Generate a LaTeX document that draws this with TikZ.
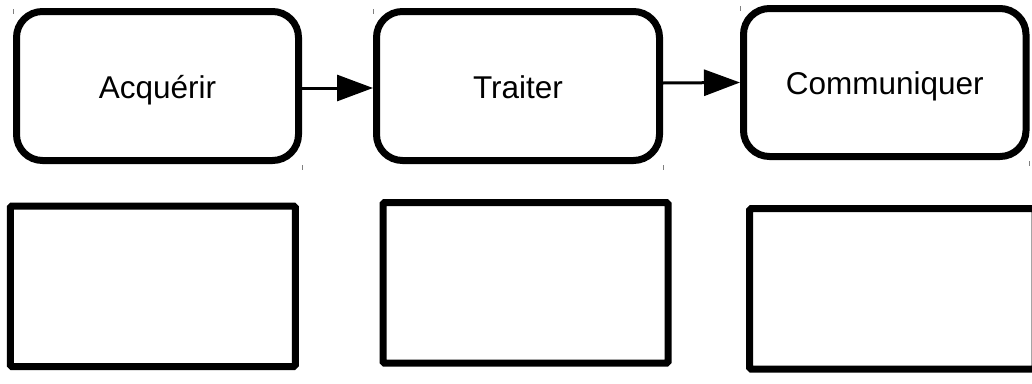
\documentclass[tikz,border=0pt]{standalone}
\usepackage{fontspec}
\setmainfont{Liberation Sans}
\usetikzlibrary{arrows.meta}
\begin{document}
\begin{tikzpicture}[x=1pt,y=-1pt,
  stepbox/.style={draw=black,fill=white,line width=7pt,rounded corners=26pt,
    minimum width=282pt,minimum height=149pt,inner sep=0pt,
    text height=24pt,text depth=0pt,
    font=\fontsize{31.5}{37}\selectfont},
  blankbox/.style={draw=black,fill=white,line width=7pt,rounded corners=1.5pt,
    minimum width=285pt,minimum height=160.5pt,inner sep=0pt},
  flow/.style={line width=3pt,-{Triangle[length=36pt,width=26pt]}},
  tick/.style={draw=black!50,line width=0.9pt}]
\useasboundingbox (0,0) rectangle (1032,383);
\clip (0,0) rectangle (1032,383);
\fill[white] (0,0) rectangle (1032,383);
% top row
\node[stepbox] (acq) at (157.5,86) {Acquérir};
\node[stepbox,minimum width=283pt] (tra) at (518,86) {Traiter};
\node[stepbox,minimum width=282.5pt,minimum height=148pt] (com) at (884.75,82.5) {Communiquer};
% connectors
\draw[flow] ([yshift=-2pt]acq.east) -- ([yshift=-2pt]tra.west);
\draw[flow] ([yshift=-0.5pt]tra.east |- com.west) -- (com.west);
% bottom row
\node[blankbox] (b1) at (152.75,286.25) {};
\node[blankbox] (b2) at (525.5,282.85) {};
\node[blankbox,minimum width=285.3pt] (b3) at (892.35,288.85) {};
% corner ticks
\draw[tick] ([yshift=-1pt]acq.north west) -- ++(0,5);
\draw[tick] ([yshift=-1pt]acq.south east) -- ++(0,5);
\draw[tick] ([yshift=-1pt]tra.north west) -- ++(0,5);
\draw[tick] ([yshift=-1pt]tra.south east) -- ++(0,5);
\draw[tick] ([yshift=-1pt]com.north west) -- ++(0,5);
\draw[tick] ([yshift=-1pt]com.south east) -- ++(0,5);
\end{tikzpicture}
\end{document}
